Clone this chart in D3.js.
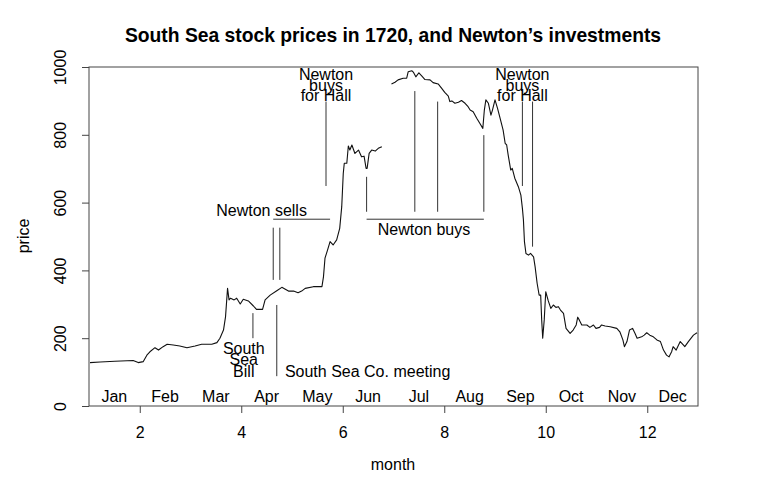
<!DOCTYPE html>
<html><head><meta charset="utf-8">
<script src="https://cdn.jsdelivr.net/npm/d3@7"></script>
<style>body{margin:0;background:#fff}</style>
</head><body>
<svg id="c" width="770" height="492"></svg>
<script>
// Segment before July closing of transfer books
const monthA = [1.02,1.22,1.51,1.87,1.97,2.07,2.14,2.20,2.30,2.37,2.46,2.54,2.66,2.79,2.93,3.09,3.22,3.42,3.52,3.58,3.65,3.69,3.73,3.76,3.79,3.86,3.91,3.98,4.04,4.14,4.24,4.30,4.42,4.47,4.57,4.70,4.80,4.86,4.93,5.03,5.12,5.19,5.26,5.42,5.59,5.62,5.65,5.70,5.75,5.81,5.88,5.94,5.98,6.01,6.03,6.08,6.11,6.14,6.18,6.24,6.31,6.37,6.42,6.46,6.48,6.52,6.57,6.64,6.70,6.77];
const priceA = [128,130,132,134,128,131,150,160,172,165,175,182,180,177,172,177,182,182,187,200,224,263,347,313,318,313,318,301,315,310,295,285,285,313,327,340,350,345,339,339,334,339,347,352,352,381,436,460,485,475,490,524,588,686,716,716,767,755,770,745,755,735,737,701,701,745,755,752,760,765];
// Segment after reopening
const monthB = [6.96,7.03,7.09,7.19,7.26,7.29,7.36,7.39,7.44,7.50,7.56,7.62,7.72,7.78,7.88,7.95,8.01,8.08,8.11,8.15,8.21,8.28,8.34,8.41,8.47,8.51,8.57,8.64,8.70,8.76,8.79,8.82,8.87,8.92,8.95,9.00,9.05,9.10,9.16,9.20,9.23,9.26,9.31,9.34,9.39,9.46,9.51,9.54,9.56,9.58,9.61,9.66,9.70,9.76,9.79,9.83,9.87,9.90,9.92,9.94,9.97,10.00,10.05,10.10,10.15,10.20,10.25,10.29,10.35,10.40,10.48,10.54,10.60,10.63,10.66,10.71,10.81,10.87,10.94,10.99,11.06,11.10,11.17,11.27,11.40,11.46,11.52,11.55,11.60,11.65,11.71,11.76,11.80,11.89,11.94,11.99,12.05,12.12,12.19,12.26,12.32,12.38,12.43,12.48,12.51,12.57,12.65,12.71,12.74,12.81,12.91,12.98];
const priceB = [950,955,962,967,967,986,989,985,971,983,973,963,962,954,950,937,925,914,898,900,893,896,901,893,883,873,868,849,834,819,873,903,893,858,873,903,878,849,814,775,770,740,696,701,672,647,622,583,549,485,450,445,450,440,411,362,327,327,254,200,254,337,310,288,298,291,293,283,273,229,214,224,239,262,254,239,239,232,239,229,232,239,236,234,229,219,195,175,190,224,229,214,200,204,209,216,209,204,195,190,165,150,145,160,175,165,190,180,175,190,209,216];

const monthNames = ["Jan","Feb","Mar","Apr","May","Jun","Jul","Aug","Sep","Oct","Nov","Dec"];
const xTicks = [2,4,6,8,10,12];
const yTicks = [0,200,400,600,800,1000];

// annotation segments [x1,y1,x2,y2] in data units
const segs = [
  [4.23,274,4.23,200],       // South Sea Bill
  [4.70,298,4.70,88],        // South Sea Co. meeting
  [4.63,551,5.75,551],       // Newton sells bar
  [4.63,526,4.63,372],
  [4.76,526,4.76,372],
  [5.67,898,5.67,649],       // buys for Hall 1
  [6.47,551,8.78,551],       // Newton buys bar
  [6.47,676,6.47,573],
  [7.42,929,7.42,573],
  [7.87,898,7.87,573],
  [8.78,799,8.78,573],
  [9.54,898,9.54,649],       // buys for Hall 2
  [9.74,898,9.74,470]
];
const notes = [
  {x:4.05, y:171, lines:["South","Sea","Bill"], anchor:"middle", gap:11.8},
  {x:4.86, y:101, lines:["South Sea Co. meeting"], anchor:"start", gap:0},
  {x:4.40, y:578, lines:["Newton sells"], anchor:"middle", gap:0},
  {x:7.60, y:522, lines:["Newton buys"], anchor:"middle", gap:0},
  {x:5.67, y:979, lines:["Newton","buys","for Hall"], anchor:"middle", gap:10.8},
  {x:9.54, y:979, lines:["Newton","buys","for Hall"], anchor:"middle", gap:10.8}
];

const FONT = "'Liberation Sans', Arial, Helvetica, sans-serif";
const FS = 16;
const svg = d3.select("#c").style("font-family", FONT);
svg.append("rect").attr("width",770).attr("height",492).attr("fill","#fff");

const x = d3.scaleLinear().domain([1,13]).range([89,698]);
const y = d3.scaleLinear().domain([0,1000]).range([406,67]);

// title
svg.append("text").attr("x",393).attr("y",35).attr("dy","0.35em")
  .attr("text-anchor","middle").attr("font-weight","bold").attr("font-size",19.3)
  .text("South Sea stock prices in 1720, and Newton\u2019s investments");

// axes
const gx = svg.append("g").attr("transform","translate(0,406)")
  .call(d3.axisBottom(x).tickValues(xTicks).tickSize(7).tickFormat(d3.format("d")));
gx.select(".domain").remove();
gx.selectAll("line").attr("stroke","#444");
gx.selectAll("text").attr("y",26).attr("dy","0.35em").attr("font-size",FS)
  .attr("font-family",FONT).attr("fill","#000");

const gy = svg.append("g").attr("transform","translate(89,0)")
  .call(d3.axisLeft(y).tickValues(yTicks).tickSize(7).tickFormat(d3.format("d")));
gy.select(".domain").remove();
gy.selectAll("line").attr("stroke","#444");
gy.selectAll("text").attr("x",0).attr("dy","0.35em")
  .attr("transform","translate(-29,0) rotate(-90)")
  .attr("text-anchor","middle").attr("font-size",FS)
  .attr("font-family",FONT).attr("fill","#000");

// box
svg.append("rect").attr("x",x(1)).attr("y",y(1000))
  .attr("width",x(13)-x(1)).attr("height",y(0)-y(1000))
  .attr("fill","none").attr("stroke","#444").attr("stroke-width",1);

// axis titles
svg.append("text").attr("x",393).attr("y",464).attr("dy","0.35em")
  .attr("text-anchor","middle").attr("font-size",FS).text("month");
svg.append("text").attr("transform","translate(23,236) rotate(-90)").attr("dy","0.35em")
  .attr("text-anchor","middle").attr("font-size",FS).text("price");

// month labels
svg.append("g").selectAll("text").data(monthNames).join("text")
  .attr("x",(d,i)=>x(i+1.5)).attr("y",y(27)).attr("dy","0.35em")
  .attr("text-anchor","middle").attr("font-size",FS).text(d=>d);

// price line
const line = d3.line().x(d=>x(d[0])).y(d=>y(d[1]));
[[monthA,priceA],[monthB,priceB]].forEach(([m,p])=>{
  svg.append("path").datum(m.map((v,i)=>[v,p[i]]))
    .attr("d",line).attr("fill","none").attr("stroke","#111").attr("stroke-width",1.1)
    .attr("stroke-linejoin","round");
});

// segments
svg.append("g").selectAll("line").data(segs).join("line")
  .attr("x1",d=>x(d[0])).attr("y1",d=>y(d[1]))
  .attr("x2",d=>x(d[2])).attr("y2",d=>y(d[3]))
  .attr("stroke","#333").attr("stroke-width",1);

// notes
notes.forEach(n=>{
  const t = svg.append("text").attr("text-anchor",n.anchor).attr("font-size",FS);
  n.lines.forEach((s,i)=>{
    t.append("tspan").attr("x",x(n.x)).attr("y",y(n.y)+i*n.gap).attr("dy","0.35em").text(s);
  });
});
</script>
</body></html>
